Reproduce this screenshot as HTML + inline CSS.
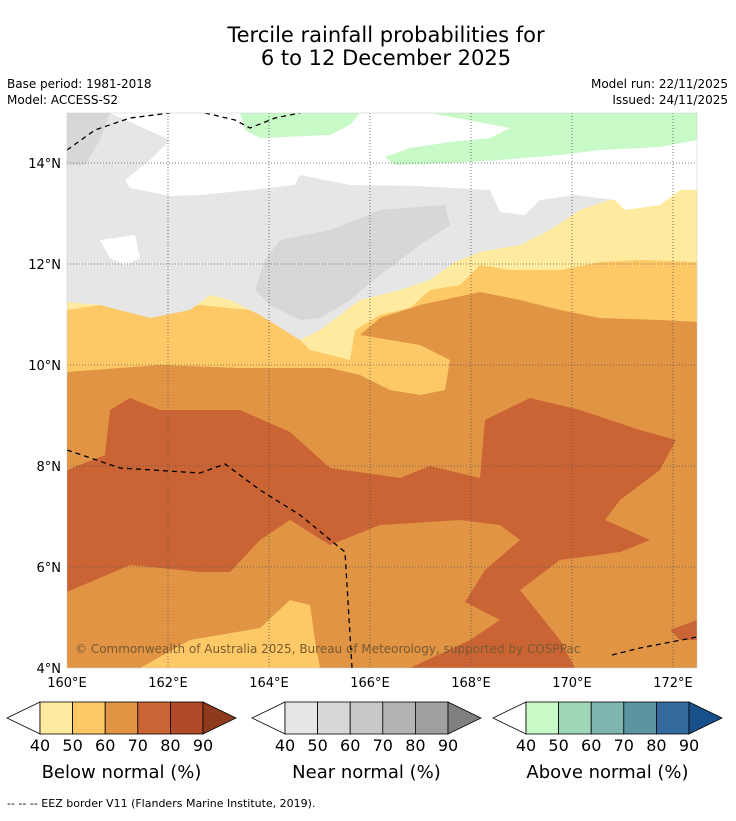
<!DOCTYPE html>
<html><head><meta charset="utf-8"><style>
body{margin:0;background:#fff;width:736px;height:816px;overflow:hidden;font-family:"Liberation Sans",sans-serif}
svg text{font-family:"DejaVu Sans","Liberation Sans",sans-serif}
</style></head><body>
<svg width="736" height="816">
<text x="386" y="42" font-size="21" text-anchor="middle">Tercile rainfall probabilities for</text>
<text x="386" y="65" font-size="21" text-anchor="middle">6 to 12 December 2025</text>
<text x="7" y="88" font-size="12">Base period: 1981-2018</text>
<text x="7" y="104" font-size="12">Model: ACCESS-S2</text>
<text x="728" y="88" font-size="12" text-anchor="end">Model run: 22/11/2025</text>
<text x="728" y="104" font-size="12" text-anchor="end">Issued: 24/11/2025</text>
<defs><clipPath id="mc"><rect x="67" y="113" width="630" height="555"/></clipPath></defs>
<g clip-path="url(#mc)">
<rect x="67" y="113" width="630" height="555" fill="#e09444"/>
<polygon fill="#fdc966" points="67,113 697,113 697,322 660,320 600,318 560,310 520,300 480,292 420,305 380,318 360,335 420,345 450,360 445,390 420,395 390,390 360,375 330,368 240,368 160,365 67,372"/>
<polygon fill="#ffeb9f" points="67,113 697,113 697,262 640,260 600,262 560,270 510,270 480,265 460,285 430,290 410,308 380,315 355,330 350,360 310,350 290,330 250,310 200,305 150,310 100,305 67,310"/>
<polygon fill="#e6e6e6" points="67,113 697,113 697,185 640,195 610,200 580,210 550,230 520,245 480,252 455,262 430,280 400,290 360,300 320,330 300,340 260,315 230,300 210,295 190,310 150,318 100,305 67,302"/>
<polygon fill="#d7d7d7" points="280,240 330,230 380,210 445,205 450,225 420,245 400,260 380,275 350,300 320,318 300,320 270,305 255,290 265,260"/>
<polygon fill="#d7d7d7" points="67,113 110,113 100,140 85,165 67,165"/>
<polygon fill="#fff" points="110,113 697,113 697,190 680,190 660,205 625,210 615,200 575,195 540,200 525,215 500,212 490,190 420,186 350,185 300,175 295,185 250,190 200,195 170,196 130,188 125,180 150,160 170,140"/>
<polygon fill="#fff" points="100,240 135,235 140,258 125,265 110,258"/>
<polygon fill="#c8fac8" points="240,113 360,113 350,125 330,135 260,138 245,130"/>
<polygon fill="#c8fac8" points="430,113 697,113 697,140 660,147 600,150 560,155 500,160 450,163 395,165 385,157 410,148 450,142 490,138 510,128"/>
<polygon fill="#cb6434" points="67,470 105,455 110,410 130,398 160,410 240,410 290,432 330,468 400,478 430,466 480,478 485,420 530,398 580,410 640,430 676,440 660,470 620,500 605,520 650,540 620,552 560,560 520,590 560,640 575,668 410,668 470,640 500,620 465,602 485,570 520,540 500,525 460,520 380,525 330,545 290,520 260,540 230,572 200,572 130,565 67,592"/>
<polygon fill="#cb6434" points="670,630 697,620 697,640 680,640"/>
<polygon fill="#fdc966" points="140,668 190,640 260,628 290,600 310,605 315,640 320,668"/>
<g stroke="#555" stroke-width="0.8" stroke-dasharray="1,2">
<line x1="168" y1="113" x2="168" y2="668"/><line x1="269" y1="113" x2="269" y2="668"/><line x1="370" y1="113" x2="370" y2="668"/><line x1="471" y1="113" x2="471" y2="668"/><line x1="572" y1="113" x2="572" y2="668"/><line x1="673" y1="113" x2="673" y2="668"/>
<line x1="67" y1="163" x2="697" y2="163"/><line x1="67" y1="264" x2="697" y2="264"/><line x1="67" y1="365" x2="697" y2="365"/><line x1="67" y1="466" x2="697" y2="466"/><line x1="67" y1="567" x2="697" y2="567"/>
</g>
<g fill="none" stroke="#000" stroke-width="1.3" stroke-dasharray="5,4">
<polyline points="67,150 95,130 130,118 170,113"/>
<polyline points="205,113 235,120 250,128 275,118 300,113"/>
<polyline points="67,450 120,468 200,473 225,464 260,490 300,515 345,552 352,668"/>
<polyline points="612,655 640,648 697,637"/>
</g>
<text x="75" y="653" font-size="12" fill="#7a5a30">© Commonwealth of Australia 2025, Bureau of Meteorology, supported by COSPPac</text>
</g>
<rect x="67" y="113" width="630" height="555" fill="none" stroke="#ccc" stroke-width="0.5"/>
<g font-size="13">
<text x="61" y="168" text-anchor="end">14°N</text><text x="61" y="269" text-anchor="end">12°N</text><text x="61" y="370" text-anchor="end">10°N</text><text x="61" y="471" text-anchor="end">8°N</text><text x="61" y="572" text-anchor="end">6°N</text><text x="61" y="673" text-anchor="end">4°N</text>
</g>
<g font-size="13" text-anchor="middle">
<text x="67" y="687">160°E</text><text x="168" y="687">162°E</text><text x="269" y="687">164°E</text><text x="370" y="687">166°E</text><text x="471" y="687">168°E</text><text x="572" y="687">170°E</text><text x="673" y="687">172°E</text>
</g>
<g id="bars"></g>
<text x="7" y="807" font-size="11">--  --  -- EEZ border V11 (Flanders Marine Institute, 2019).</text>
</svg>
<script>
const ticks=[40,50,60,70,80,90];
const belowColors=["#fff","#ffeb9f","#fdc966","#e09444","#cb6434","#b04a28","#8e3a1c"];
const nearColors=["#fff","#e6e6e6","#d7d7d7","#c8c8c8","#b4b4b4","#a0a0a0","#808080"];
const aboveColors=["#fff","#c8fac8","#a0d6b8","#7fb7b0","#5a95a0","#346a9c","#18508c"];
const bars=[["Below normal (%)",40,belowColors,"below-normal-colorbar"],["Near normal (%)",285,nearColors,"near-normal-colorbar"],["Above normal (%)",526,aboveColors,"above-normal-colorbar"]];
const NS="http://www.w3.org/2000/svg",g=document.getElementById('bars');
function mk(t,a){const e=document.createElementNS(NS,t);for(const k in a)e.setAttribute(k,a[k]);return e;}
bars.forEach(b=>{
 const x0=b[1],w=32.6,y=702,h=32,c=b[2];
 const grp=mk('g',{});
 
 
 grp.appendChild(mk('polygon',{points:`${x0},${y} ${x0-33},${y+h/2} ${x0},${y+h}`,fill:c[0],stroke:'#000','stroke-width':0.8}));
 for(let i=0;i<5;i++)grp.appendChild(mk('rect',{x:x0+i*w,y:y,width:w,height:h,fill:c[i+1],stroke:'#000','stroke-width':0.8}));
 const xe=x0+5*w;
 grp.appendChild(mk('polygon',{points:`${xe},${y} ${xe+33},${y+h/2} ${xe},${y+h}`,fill:c[6],stroke:'#000','stroke-width':0.8}));
 ticks.forEach((t,i)=>{const tx=mk('text',{x:x0+i*w,y:751,'font-size':16,'text-anchor':'middle'});tx.textContent=t;grp.appendChild(tx);});
 const lb=mk('text',{x:x0+2.5*w,y:778,'font-size':18,'text-anchor':'middle'});lb.textContent=b[0];grp.appendChild(lb);
 g.appendChild(grp);
});
</script>
</body></html>
